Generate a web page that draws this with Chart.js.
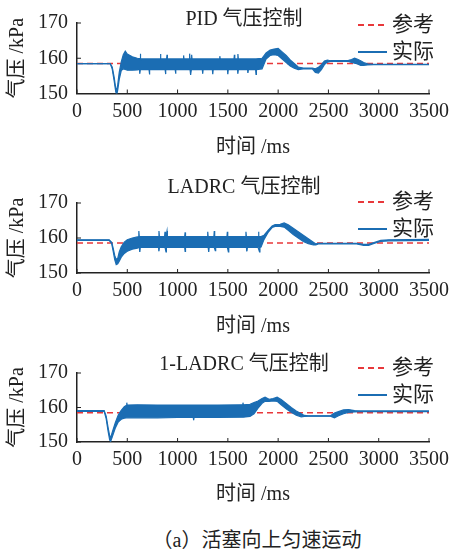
<!DOCTYPE html>
<html>
<head>
<meta charset="utf-8">
<script src="https://cdn.jsdelivr.net/npm/chart.js@4.4.1/dist/chart.umd.min.js"></script>
<style>
body { margin: 0; background: #fff; }
#wrap { position: relative; width: 455px; height: 549px; overflow: hidden; }
canvas { position: absolute; left: 0; }
#caption {
    position: absolute; left: 47px; width: 420px; top: 524px;
    text-align: center; font: 20px 'Liberation Serif', 'Noto Sans CJK SC', serif; color: #222;
}
</style>
</head>
<body>
<div id="wrap">
    <canvas id="c1" width="455" height="164" style="top:0px"></canvas>
    <canvas id="c2" width="455" height="175" style="top:168px"></canvas>
    <canvas id="c3" width="455" height="166" style="top:345px"></canvas>
    <div id="caption">（a）活塞向上匀速运动</div>
</div>
<script>
// tick labels
const xTicks = [0, 500, 1000, 1500, 2000, 2500, 3000, 3500];
const yTicks = [150, 160, 170];

// PID: time, upper / lower edge of the measured band
const t1 = [0, 330, 350, 370, 385, 395, 405, 420, 440, 460, 480, 500, 550, 600,
    621, 625, 628, 630, 633, 716, 720, 724, 826, 830, 834, 876, 880, 884, 891, 895, 899,
    976, 980, 984, 1056, 1060, 1064, 1116, 1120, 1124, 1130, 1136, 1140, 1144,
    1246, 1250, 1254, 1346, 1350, 1354, 1416, 1420, 1424, 1496, 1500, 1504,
    1561, 1565, 1569, 1596, 1600, 1604, 1696, 1700, 1704, 1776, 1780, 1784,
    1840, 1880, 1920, 1960, 2000, 2040, 2080, 2120, 2160, 2200,
    2250, 2340, 2370, 2400, 2430, 2460, 2490, 2520, 2700, 2730, 2760, 2790, 2820, 2850, 2890, 2950, 3500];
const up1 = [158.5, 158.5, 157.5, 154.5, 151.5, 150.8, 152.5, 156, 159, 161, 162, 161.2, 160.4, 160.0,
    159.9, 159.9, 159.9, 161.3, 159.8, 159.8, 159.8, 159.8, 159.8, 161.2, 159.8, 159.8, 159.8, 159.8, 159.8, 161.0, 159.8,
    159.8, 159.8, 159.8, 159.8, 160.8, 159.8, 159.8, 161.3, 159.8, 159.8, 159.8, 161.0, 159.8,
    159.8, 159.8, 159.8, 159.8, 159.8, 159.8, 159.8, 160.6, 159.8, 159.8, 159.8, 159.8,
    159.8, 161.0, 159.8, 159.8, 161.2, 159.8, 159.8, 159.8, 159.8, 159.8, 159.8, 159.8,
    160.0, 161.5, 162.3, 162.6, 162.8, 161.8, 160.8, 159.5, 158.5, 157.5,
    157.2, 157.2, 157.0, 157.4, 158.2, 159.2, 159.5, 159.3, 159.4, 159.6, 160.0, 159.7, 159.3, 158.8, 158.4, 158.3, 158.3];
const lo1 = [158.5, 158.5, 157.0, 153.5, 150.5, 149.6, 151.0, 154, 156.5, 157, 156.8, 156.6, 156.6, 156.7,
    156.8, 155.6, 156.8, 156.8, 156.8, 156.8, 155.4, 156.8, 156.8, 156.8, 156.8, 156.8, 155.5, 156.8, 156.8, 156.8, 156.8,
    156.8, 155.6, 156.8, 156.8, 156.8, 156.8, 156.8, 156.8, 156.8, 155.3, 156.8, 156.8, 156.8,
    156.8, 155.6, 156.8, 156.8, 155.5, 156.8, 156.8, 156.8, 156.8, 156.8, 155.5, 156.8,
    156.8, 156.8, 156.8, 156.8, 155.6, 156.8, 156.8, 155.8, 156.8, 156.8, 155.4, 156.8,
    157.0, 159.8, 160.8, 161.0, 160.8, 159.8, 158.8, 157.8, 157.2, 156.8,
    157.0, 157.0, 156.0, 155.8, 156.8, 158.2, 158.9, 159.1, 159.1, 158.8, 158.6, 158.4, 158.0, 158.0, 158.1, 158.2, 158.2];
const ref1 = [158.5, 158.5];

// LADRC
const t2 = [0, 320, 345, 360, 375, 390, 405, 420, 440, 470, 500, 550, 600,
    611, 615, 619, 625, 629, 700, 811, 815, 819, 871, 875, 879, 885, 889, 895, 899,
    1071, 1075, 1079, 1296, 1300, 1304, 1310, 1314, 1361, 1365, 1369, 1375, 1379,
    1491, 1495, 1499, 1505, 1509, 1676, 1680, 1684, 1690, 1694, 1801, 1805, 1809, 1815, 1819,
    1830, 1860, 1900, 1940, 1970, 2020, 2060, 2100, 2150, 2200, 2250, 2300, 2350, 2375, 2400,
    2780, 2850, 2900, 2960, 3020, 3100, 3500];
const up2 = [159.5, 159.5, 158.8, 157, 155, 153.8, 154.2, 156, 157.5, 158.8, 159.5, 160.0, 160.3,
    160.4, 162.0, 160.4, 160.4, 160.4, 160.4, 160.4, 162.0, 160.4, 160.4, 161.8, 160.4, 160.4, 160.4, 162.0, 160.4,
    160.4, 161.6, 160.4, 160.4, 161.8, 160.4, 160.4, 160.4, 160.4, 162.0, 160.4, 160.4, 160.4,
    160.4, 161.8, 160.4, 160.4, 160.4, 160.4, 161.8, 160.4, 160.4, 160.4, 160.4, 161.8, 160.4, 160.4, 160.4,
    160.4, 160.8, 162.2, 163.4, 163.8, 163.9, 164.3, 163.8, 162.8, 161.8, 160.8, 159.8, 158.8, 158.3, 158.5,
    158.5, 158.2, 158.2, 158.8, 159.3, 159.5, 159.6];
const lo2 = [159.3, 159.3, 158.4, 156.2, 153.8, 152.4, 152.6, 153.4, 154.5, 155.6, 156.2, 156.8, 157.1,
    157.3, 157.3, 157.3, 156.0, 157.3, 157.3, 157.3, 156.2, 157.3, 157.3, 157.3, 157.3, 156.0, 157.3, 157.3, 157.3,
    157.3, 156.2, 157.3, 157.3, 157.3, 157.3, 156.0, 157.3, 157.3, 157.3, 157.3, 156.4, 157.3,
    157.3, 157.3, 157.3, 156.0, 157.3, 157.3, 157.3, 157.3, 156.2, 157.3, 157.3, 157.3, 157.3, 156.0, 157.3,
    157.4, 159.6, 161.6, 163.0, 163.3, 163.3, 163.1, 162.2, 161.0, 160.0, 159.0, 158.4, 158.0, 158.0, 158.3,
    158.3, 157.9, 157.9, 158.5, 159.0, 159.2, 159.3];
const ref2 = [158.6, 158.6];

// 1-LADRC
const t3 = [0, 270, 290, 310, 325, 335, 350, 380, 410, 440, 470, 491, 495, 499, 600, 800, 1000, 1150, 1156, 1160, 1164, 1400,
    1640, 1646, 1650, 1654, 1720, 1760, 1800, 1840, 1870, 1910, 1950, 1990, 2030, 2080, 2130, 2180, 2230, 2260, 2300, 2520, 2560,
    2600, 2650, 2700, 2760, 2820, 3500];
const up3 = [159.1, 159.1, 157.5, 154, 151.8, 151.2, 152.8, 155.5, 157.8, 159.2, 160.2, 160.6, 161.4, 160.7, 160.8, 160.7, 160.7, 160.7, 160.7, 160.7, 160.7, 160.7,
    160.8, 160.8, 161.4, 160.8, 160.9, 161.4, 161.9, 162.6, 163.0, 162.4, 162.6, 163.0, 162.3, 161.2, 160.0, 159.0, 158.2, 157.7, 157.6, 157.6, 158.4,
    158.8, 159.3, 159.4, 159.1, 159.0, 159.0];
const lo3 = [158.9, 158.9, 156.8, 153, 150.6, 150.2, 151.4, 154, 155.8, 156.6, 156.9, 157.0, 157.0, 157.0, 157.0, 157.0, 157.1, 157.1, 157.1, 156.3, 157.1, 157.1,
    157.2, 157.2, 157.2, 157.2, 157.4, 158.2, 159.8, 161.2, 161.8, 161.8, 161.9, 161.8, 160.8, 159.6, 158.6, 157.8, 157.3, 157.4, 157.5, 157.5, 157.0,
    157.6, 158.2, 158.6, 158.7, 158.8, 158.8];
const ref3 = [158.5, 158.5];

const FONT = "'Liberation Serif', 'Noto Sans CJK SC', serif";
const BLUE = '#1b6db3';
const RED = '#e8383b';

function pts(x, y) {
    return x.map((v, i) => ({ x: v, y: y[i] }));
}

// title sits over the top edge of the plot, so it is drawn here
const plotTitle = {
    id: 'plotTitle',
    afterDraw(chart, args, opts) {
        const ctx = chart.ctx;
        const a = chart.chartArea;
        ctx.save();
        ctx.font = '20px ' + FONT;
        ctx.textAlign = 'center';
        ctx.textBaseline = 'middle';
        ctx.fillStyle = '#222';
        ctx.fillText(opts.text, (a.left + a.right) / 2 + opts.dx, opts.y);
        ctx.restore();
    }
};

// legend drawn at a fixed spot inside the plot
const sideLegend = {
    id: 'sideLegend',
    afterDraw(chart, args, opts) {
        const ctx = chart.ctx;
        ctx.save();
        ctx.font = '21px ' + FONT;
        ctx.textBaseline = 'middle';
        ctx.fillStyle = '#222';
        let y = opts.y;
        chart.data.datasets.forEach(ds => {
            if (!ds.label) return;
            ctx.strokeStyle = ds.borderColor;
            ctx.lineWidth = 2;
            ctx.setLineDash(ds.borderDash || []);
            ctx.beginPath();
            ctx.moveTo(opts.x, y);
            ctx.lineTo(opts.x + 29, y);
            ctx.stroke();
            ctx.setLineDash([]);
            ctx.fillText(ds.label, opts.x + 34, y);
            y += opts.gap;
        });
        ctx.restore();
    }
};

// small inward tick marks
const inTicks = {
    id: 'inTicks',
    afterDatasetsDraw(chart) {
        const { ctx, chartArea, scales } = chart;
        ctx.save();
        ctx.strokeStyle = '#222';
        ctx.lineWidth = 1;
        ctx.beginPath();
        scales.x.ticks.forEach(t => {
            const px = scales.x.getPixelForValue(t.value);
            ctx.moveTo(px, chartArea.bottom);
            ctx.lineTo(px, chartArea.bottom - 4);
        });
        scales.y.ticks.forEach(t => {
            const py = scales.y.getPixelForValue(t.value);
            ctx.moveTo(chartArea.left, py);
            ctx.lineTo(chartArea.left + 4, py);
        });
        ctx.stroke();
        ctx.restore();
    }
};

function makeChart(canvas, title, top, t, up, lo, ref, legendY) {
    const ctx = document.getElementById(canvas);
    new Chart(ctx, {
        type: 'line',
        data: {
            datasets: [
                {
                    label: '参考',
                    data: pts([xTicks[0], xTicks[xTicks.length - 1]], ref),
                    borderColor: RED,
                    borderWidth: 1.5,
                    borderDash: [6, 4],
                    pointRadius: 0,
                    order: 3
                },
                {
                    label: '实际',
                    data: pts(t, up),
                    borderColor: BLUE,
                    backgroundColor: BLUE,
                    borderWidth: 1.2,
                    pointRadius: 0,
                    fill: '+1',
                    order: 1
                },
                {
                    label: '',
                    data: pts(t, lo),
                    borderColor: BLUE,
                    borderWidth: 1.2,
                    pointRadius: 0,
                    order: 2
                }
            ]
        },
        options: {
            responsive: false,
            animation: false,
            layout: { padding: { left: 0, right: 21, top: top, bottom: 0 } },
            plugins: {
                legend: { display: false },
                tooltip: { enabled: false },
                title: { display: false },
                plotTitle: { text: title, y: 20, dx: -9 },
                sideLegend: { x: 358, y: legendY, gap: 27 }
            },
            scales: {
                x: {
                    type: 'linear',
                    min: xTicks[0],
                    max: xTicks[xTicks.length - 1],
                    afterBuildTicks: s => { s.ticks = xTicks.map(v => ({ value: v })); },
                    grid: { display: false, drawTicks: false, tickLength: 0 },
                    border: { display: true, color: '#222', width: 1.5 },
                    ticks: {
                        color: '#222', padding: 6, maxRotation: 0,
                        font: { size: 20, family: FONT, lineHeight: 1.2 },
                        callback: v => String(v)
                    },
                    title: {
                        display: true,
                        text: '时间 /ms',
                        color: '#222',
                        font: { size: 20, family: FONT, lineHeight: 1.2 },
                        padding: { top: 8, bottom: 4 }
                    }
                },
                y: {
                    min: yTicks[0],
                    max: yTicks[yTicks.length - 1],
                    afterBuildTicks: s => { s.ticks = yTicks.map(v => ({ value: v })); },
                    afterFit: s => { s.width = 77; },
                    grid: { display: false, drawTicks: false, tickLength: 0 },
                    border: { display: true, color: '#222', width: 1.5 },
                    ticks: {
                        color: '#222', padding: 9,
                        font: { size: 20, family: FONT, lineHeight: 1.2 },
                        callback: v => String(v)
                    },
                    title: {
                        display: true,
                        text: '气压 /kPa',
                        color: '#222',
                        font: { size: 20, family: FONT, lineHeight: 1.2 },
                        padding: { top: 6, bottom: 0 }
                    }
                }
            }
        },
        plugins: [plotTitle, sideLegend, inTicks]
    });
}

makeChart('c1', 'PID 气压控制', 23, t1, up1, lo1, ref1, 25);
makeChart('c2', 'LADRC 气压控制', 35, t2, up2, lo2, ref2, 34);
makeChart('c3', '1-LADRC 气压控制', 28, t3, up3, lo3, ref3, 23);
</script>
</body>
</html>
